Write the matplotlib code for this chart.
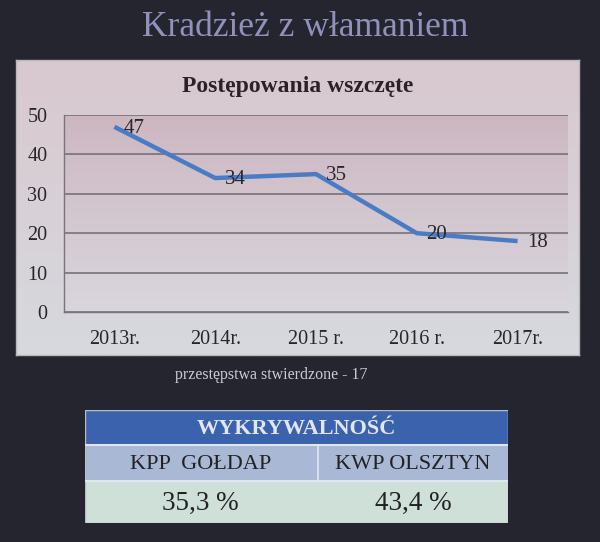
import numpy as np
import matplotlib
matplotlib.use("Agg")
import matplotlib.pyplot as plt
from matplotlib.patches import Rectangle
from matplotlib.colors import LinearSegmentedColormap

# ---- data ----
title = "Kradzież z włamaniem"
chart_title = "Postępowania wszczęte"
categories = ["2013r.", "2014r.", "2015 r.", "2016 r.", "2017r."]
values = [47, 34, 35, 20, 18]
y_ticks = [0, 10, 20, 30, 40, 50]
subtitle = "przestępstwa stwierdzone - 17"
table_header = "WYKRYWALNOŚĆ"
table_units = ["KPP  GOŁDAP", "KWP OLSZTYN"]
table_values = ["35,3 %", "43,4 %"]

W, H = 600, 542
SERIF = ["Liberation Serif", "DejaVu Serif"]
plt.rcParams["font.family"] = SERIF

fig = plt.figure(figsize=(W / 100, H / 100), dpi=100)
fig.patch.set_facecolor("#24252f")


def px_axes(x0, y0, x1, y1, **kw):
    return fig.add_axes([x0 / W, 1 - y1 / H, (x1 - x0) / W, (y1 - y0) / H], **kw)


# slide title
fig.text(305 / W, 1 - 28 / H, title, ha="center", va="center",
         fontsize=25.5, color="#9191bb")

# chart panel with gradient
panel = px_axes(16, 60, 579, 355)
grad = np.linspace(0, 1, 256).reshape(-1, 1)
cmap_panel = LinearSegmentedColormap.from_list("p", ["#d9c8cf", "#d6d9de"])
panel.imshow(grad, aspect="auto", cmap=cmap_panel, extent=[0, 1, 0, 1], origin="upper")
panel.set_xlim(0, 1); panel.set_ylim(0, 1)
panel.set_xticks([]); panel.set_yticks([])
for s in panel.spines.values():
    s.set_color("#b8b8bc"); s.set_linewidth(1)
panel.text(0.5, 1 - (86 - 60) / 295, chart_title, ha="center", va="center",
           fontsize=17, fontweight="bold", color="#2a2226", transform=panel.transAxes)

# plot area
ax = px_axes(64, 115, 568, 312)
ax.set_zorder(2)
cmap_plot = LinearSegmentedColormap.from_list("q", ["#cdb7c1", "#d9d6dd"])
ax.imshow(grad, aspect="auto", cmap=cmap_plot, extent=[-0.5, 4.5, 0, 50],
          origin="upper", zorder=0)
ax.set_xlim(-0.5, 4.5)
ax.set_ylim(0, 50)
ax.set_yticks(y_ticks)
ax.set_yticklabels([str(t) for t in y_ticks])
ax.grid(axis="y", color="#6f6a72", linewidth=1.1)
ax.set_axisbelow(True)
ax.set_xticks(range(len(categories)))
ax.set_xticklabels(categories)
ax.tick_params(axis="both", length=0, labelsize=14.5, colors="#2a2628")
ax.tick_params(axis="x", pad=13)
ax.tick_params(axis="y", pad=12)
for name, s in ax.spines.items():
    if name in ("left", "bottom"):
        s.set_color("#7a757c"); s.set_linewidth(1)
    else:
        s.set_visible(False)

x = np.arange(len(values))
ax.plot(x, values, color="#4a7cc6", linewidth=3.2, solid_capstyle="butt", zorder=3)
for xi, v in zip(x, values):
    ax.annotate(str(v), (xi, v), xytext=(7, -1), textcoords="offset points",
                ha="left", va="center", fontsize=15, color="#2a2628", zorder=4)

# subtitle
fig.text(271 / W, 1 - 375 / H, subtitle, ha="center", va="center",
         fontsize=11.5, color="#c9ccd4")

# table
tab = px_axes(85, 410, 508, 523)
tab.set_xlim(85, 508)
tab.set_ylim(523, 410)
tab.axis("off")
split = 318
tab.add_patch(Rectangle((85, 410), 423, 35, facecolor="#3b62ad", edgecolor="none"))
tab.add_patch(Rectangle((85, 445), 423, 36, facecolor="#a9b8d4", edgecolor="none"))
tab.add_patch(Rectangle((85, 481), 423, 42, facecolor="#cfe0d9", edgecolor="none"))
tab.plot([85, 508], [445, 445], color="#dfe6ef", lw=1.5)
tab.plot([85, 508], [481, 481], color="#dfe6ef", lw=1.5)
tab.plot([split, split], [445, 481], color="#dfe6ef", lw=1.2)
tab.add_patch(Rectangle((85, 410), 423, 113, facecolor="none", edgecolor="#b9bcc4", lw=1))
tab.text(296, 429, table_header, ha="center", va="center", fontsize=16,
         fontweight="bold", color="#e2e6f2")
cx = [(85 + split) / 2 - 1, (split + 508) / 2]
for c, u, v in zip(cx, table_units, table_values):
    tab.text(c, 464, u, ha="center", va="center", fontsize=16, color="#222226")
    tab.text(c, 503, v, ha="center", va="center", fontsize=19.5, color="#222226")

fig.savefig("out.png", dpi=100, facecolor=fig.get_facecolor())
